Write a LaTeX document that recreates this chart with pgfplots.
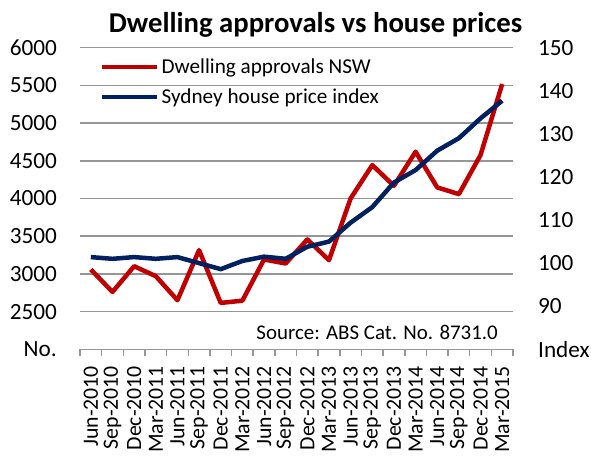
\documentclass[border=0pt]{standalone}
\usepackage{fontspec}
\setmainfont{Carlito}
\usepackage{pgfplots}
\usepackage{pgfplotstable}
\pgfplotsset{compat=1.18}

\definecolor{appred}{RGB}{192,0,0}
\definecolor{hpiblue}{RGB}{0,32,96}
\definecolor{gridgrey}{RGB}{150,150,150}

% quarter index, NSW dwelling approvals, Sydney house price index
\pgfplotstableread{
q approvals hpi
0  3059 101.4
1  2761 101.0
2  3102 101.4
3  2970 101.0
4  2651 101.4
5  3315 100.0
6  2615  98.6
7  2645 100.5
8  3191 101.5
9  3138 101.0
10 3457 103.8
11 3182 105.0
12 4001 109.4
13 4443 113.0
14 4168 118.7
15 4620 121.6
16 4147 126.1
17 4058 129.0
18 4576 133.6
19 5518 137.7
}\datatable

\pgfplotsset{
  base/.style={
    scale only axis, width=433pt, height=301.6pt,
    xmin=-0.5, xmax=19.5,
    axis line style={draw=none},
    tick label style={font=\fontsize{23.2}{27}\selectfont},
    major tick length=0pt,
    /pgf/number format/assume math mode=true,
  },
}

\begin{document}
\begin{tikzpicture}
\begin{axis}[base,
    ymin=2000, ymax=6000,
    ytick={2000,2500,...,6000},
    yticklabels={No.,2500,3000,3500,4000,4500,5000,5500,6000},
    ytick pos=left,
    yticklabel style={inner sep=0pt},
    yticklabel shift=23pt,
    ymajorgrids,
    major grid style={gridgrey, line width=1.5pt},
    xtick={0,...,19},
    xticklabels={Jun-2010,Sep-2010,Dec-2010,Mar-2011,Jun-2011,Sep-2011,Dec-2011,Mar-2012,Jun-2012,Sep-2012,Dec-2012,Mar-2013,Jun-2013,Sep-2013,Dec-2013,Mar-2014,Jun-2014,Sep-2014,Dec-2014,Mar-2015},
    xtick pos=bottom,
    xticklabel style={rotate=90, anchor=east, inner sep=0pt, font=\fontsize{21.8}{26}\selectfont},
    xticklabel shift=16.5pt,
    minor xtick={-0.5,0.5,...,19.5},
    minor tick length=6.5pt,
    tick align=outside,
    minor x tick style={gridgrey, line width=1.5pt},
    clip=false,
  ]
  \addplot[appred, line width=4.5pt, line join=round] table[x=q, y=approvals] {\datatable};
  \node[anchor=base east, inner sep=0pt, font=\fontsize{20.9}{24}\selectfont]
    at (rel axis cs:1,0) [xshift=-15pt, yshift=10pt] {Source: ABS Cat. No. 8731.0};
  \node[anchor=base, inner sep=0pt, font=\bfseries\fontsize{28.7}{34}\selectfont]
    at (rel axis cs:0.544,1) [yshift=15.6pt] {Dwelling approvals vs house prices};
\end{axis}
\begin{axis}[base,
    ymin=80, ymax=150,
    ytick={80,90,...,150},
    yticklabels={Index,90,100,110,120,130,140,150},
    ytick pos=right,
    yticklabel pos=right,
    yticklabel style={inner sep=0pt},
    yticklabel shift=25pt,
    xtick=\empty,
    legend style={at={(rel axis cs:0.046,0.971)}, anchor=north west,
      draw=none, fill=none, inner sep=0pt, row sep=10pt,
      font=\fontsize{21.2}{25}\selectfont},
    legend cell align=left,
    legend image code/.code={\draw[#1] (0pt,0pt) -- (55pt,0pt);},
  ]
  \addlegendimage{appred, line width=4.5pt}
  \addlegendentry{Dwelling approvals NSW}
  \addplot[hpiblue, line width=4.5pt, line join=round] table[x=q, y=hpi] {\datatable};
  \addlegendentry{Sydney house price index}
\end{axis}
\pgfresetboundingbox
\path (-80pt,-107.7pt) rectangle (511pt,349.3pt);
\end{tikzpicture}
\end{document}
